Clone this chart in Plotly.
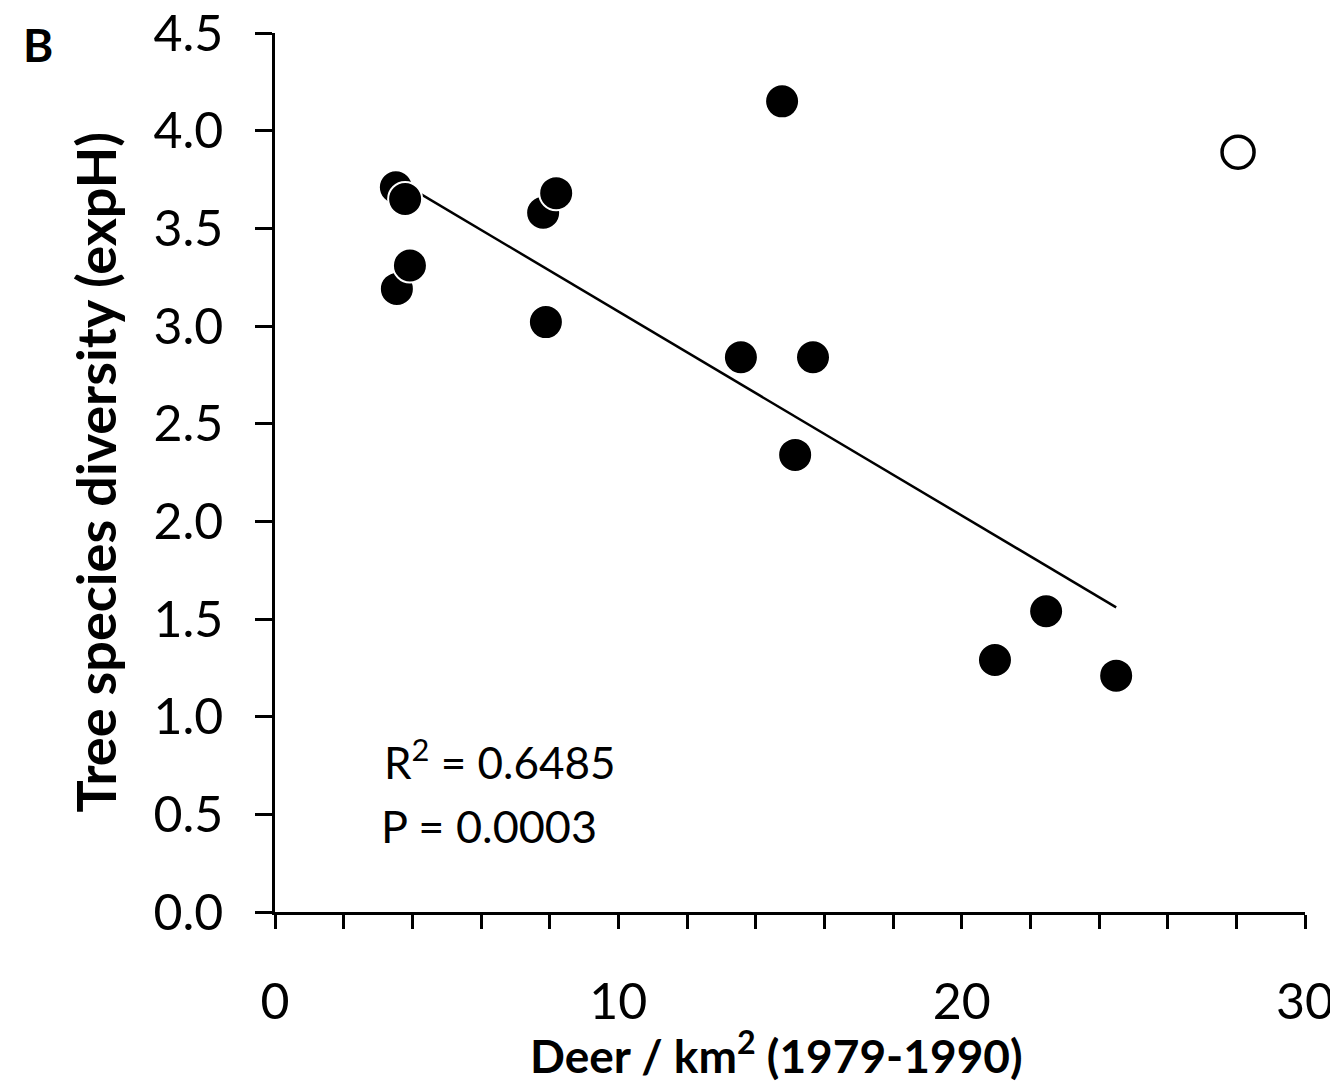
import numpy as np
import plotly.graph_objects as go

# Data
deer_filled = [3.52, 3.79, 3.55, 3.93, 7.81, 8.19, 7.89, 13.57, 15.67, 15.15, 14.77, 20.97, 22.46, 24.50]
div_filled = [3.71, 3.65, 3.19, 3.31, 3.58, 3.68, 3.02, 2.84, 2.84, 2.34, 4.15, 1.29, 1.54, 1.21]
deer_open = [28.05]
div_open = [3.89]
y_ticks = [0.0, 0.5, 1.0, 1.5, 2.0, 2.5, 3.0, 3.5, 4.0, 4.5]
x_ticks = [0, 10, 20, 30]

FONT = "Lato"

# regression line over filled points
b, a = np.polyfit(deer_filled, div_filled, 1)
x_line = np.array([min(deer_filled) + 0.25, max(deer_filled)])
y_line = a + b * x_line

fig = go.Figure()
fig.add_trace(go.Scatter(x=x_line, y=y_line, mode="lines",
                         line=dict(color="black", width=2.5), showlegend=False))
fig.add_trace(go.Scatter(x=deer_filled, y=div_filled, mode="markers",
                         marker=dict(size=34, color="black", line=dict(color="white", width=2)),
                         showlegend=False))
fig.add_trace(go.Scatter(x=deer_open, y=div_open, mode="markers",
                         marker=dict(size=32, color="white", line=dict(color="black", width=3.5)),
                         showlegend=False))

# page body has an 8px margin; figure sized to fit the viewport
W, H = 1330, 1078
L, R, T, B = 267, 33, 25, 174
PW, PH = W - L - R, H - T - B

fig.update_layout(
    width=W, height=H,
    margin=dict(l=L, r=R, t=T, b=B),
    paper_bgcolor="white", plot_bgcolor="white",
    font=dict(family=FONT, color="black", size=44),
)
fig.update_xaxes(range=[0, 30], tickvals=x_ticks, ticktext=[str(v) for v in x_ticks],
                 automargin=False, ticklabeloverflow="allow",
                 showgrid=False, zeroline=False, showline=True, linecolor="black", linewidth=2.5,
                 ticks="outside", ticklen=14, tickwidth=2.5, tickcolor="black",
                 minor=dict(dtick=2, ticks="outside", ticklen=14, tickwidth=2.5, tickcolor="black"),
                 ticklabelstandoff=30, tickfont=dict(size=50, family=FONT))
fig.update_yaxes(range=[0, 4.5], tickvals=y_ticks, ticktext=[f"{v:.1f}" for v in y_ticks],
                 automargin=False, ticklabeloverflow="allow",
                 showgrid=False, zeroline=False, showline=True, linecolor="black", linewidth=2.5,
                 ticks="outside", ticklen=17, tickwidth=2.5, tickcolor="black",
                 ticklabelstandoff=22, tickfont=dict(size=50, family=FONT))

fig.add_annotation(xref="paper", yref="paper", x=(776 - 8 - L) / PW, y=-(1052 - 912) / PH,
                   text="<b>Deer / km<sup>2</sup> (1979-1990)</b>", showarrow=False,
                   yanchor="middle", xanchor="center", font=dict(size=46, family=FONT))
fig.add_annotation(xref="paper", yref="paper", x=-(275 - 95) / PW, y=0.5, textangle=-90,
                   text="<b>Tree species diversity (expH)</b>", showarrow=False,
                   xanchor="center", yanchor="middle", font=dict(size=54, family=FONT))
fig.add_annotation(xref="paper", yref="paper", x=-(275 - 38) / PW, y=1 - (45 - 33) / PH,
                   text="<b>B</b>", showarrow=False,
                   xanchor="center", yanchor="middle", font=dict(size=46, family=FONT))
fig.add_annotation(x=6.55, y=0.78, text="R<sup>2</sup> = 0.6485", showarrow=False,
                   xanchor="center", yanchor="middle", font=dict(size=44, family=FONT))
fig.add_annotation(x=6.23, y=0.44, text="P = 0.0003", showarrow=False,
                   xanchor="center", yanchor="middle", font=dict(size=45, family=FONT))

fig.write_html("out.html")
